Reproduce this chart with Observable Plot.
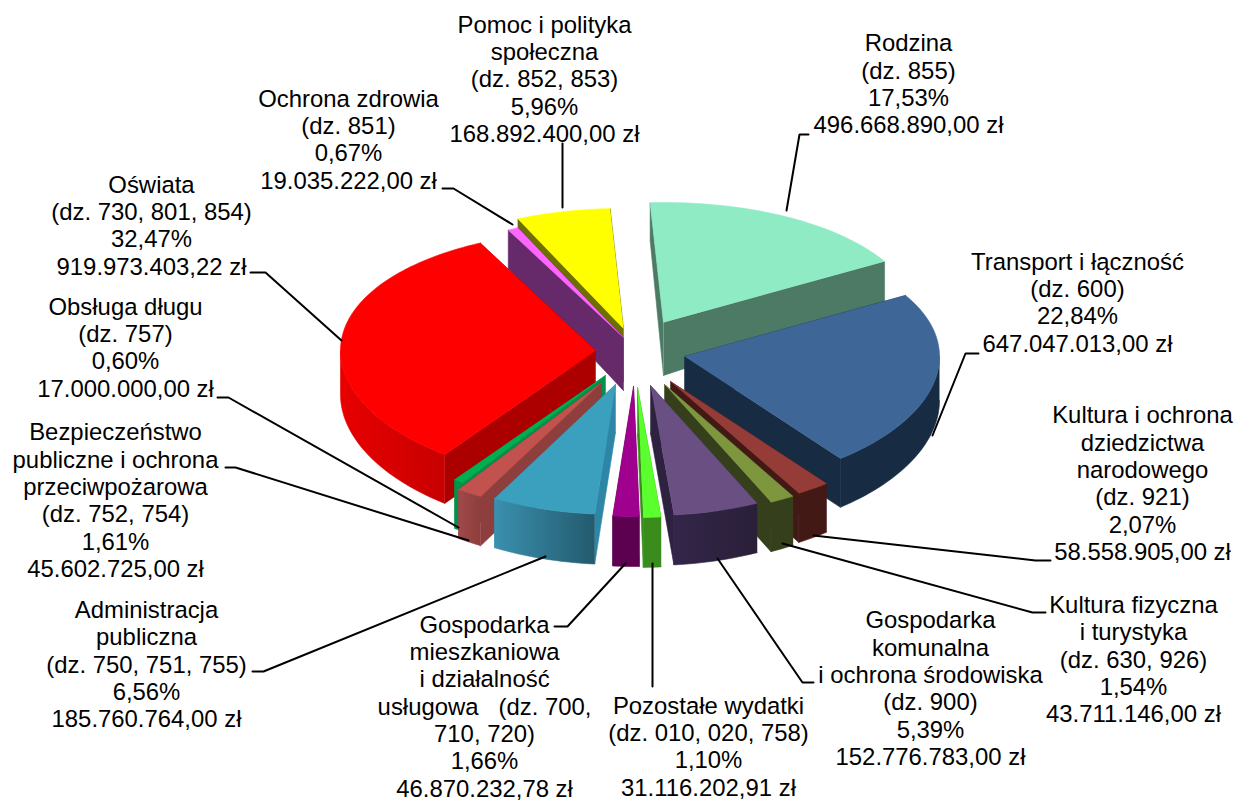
<!DOCTYPE html>
<html lang="pl">
<head>
<meta charset="utf-8">
<script src="https://cdn.jsdelivr.net/npm/d3@7"></script>
<script src="https://cdn.jsdelivr.net/npm/@observablehq/plot@0.6"></script>
<style>
html,body{margin:0;padding:0;background:#fff}
svg{display:block}
</style>
</head>
<body>
<div id="chart"></div>
<script>
// ---------- data (clockwise from the top) ----------
const labelHeads = [
  "Rodzina\n(dz. 855)",
  "Transport i łączność\n(dz. 600)",
  "Kultura i ochrona\ndziedzictwa\nnarodowego\n(dz. 921)",
  "Kultura fizyczna\ni turystyka\n(dz. 630, 926)",
  "Gospodarka\nkomunalna\ni ochrona środowiska\n(dz. 900)",
  "Pozostałe wydatki\n(dz. 010, 020, 758)",
  "Gospodarka\nmieszkaniowa\ni działalność\nusługowa\u00a0\u00a0\u00a0(dz. 700,\n710, 720)",
  "Administracja\npubliczna\n(dz. 750, 751, 755)",
  "Bezpieczeństwo\npubliczne i ochrona\nprzeciwpożarowa\n(dz. 752, 754)",
  "Obsługa długu\n(dz. 757)",
  "Oświata\n(dz. 730, 801, 854)",
  "Ochrona zdrowia\n(dz. 851)",
  "Pomoc i polityka\nspołeczna\n(dz. 852, 853)"
];
const percents = [17.53, 22.84, 2.07, 1.54, 5.39, 1.10, 1.66, 6.56, 1.61, 0.60, 32.47, 0.67, 5.96];
const amounts = [496668890.00, 647047013.00, 58558905.00, 43711146.00, 152776783.00, 31116202.91,
  46870232.78, 185760764.00, 45602725.00, 17000000.00, 919973403.22, 19035222.00, 168892400.00];

// ---------- styles ----------
const topColors  = ["#8FEBC4","#3E6697","#963C38","#7E973F","#6A4F83","#5CFF2E","#A0008E","#3BA0BE","#C1524E","#00B050","#FF0000","#FF66FF","#FFFF00"];
const wallColors = ["#4C7A65","#172B43","#431915","#363F1C","#2E2240","#3A8C1C","#5C0050","#2E86A6","#8E3E3C","#00924A","#AC0000","#662A6B","#6F6F00"];
const arcFrom    = ["#4C7A65","#172B43","#431915","#363F1C","#33264A","#3A8C1C","#5C0050","#3A90AE","#A0494A","#00924A","#E80000","#662A6B","#6F6F00"];
const arcTo      = ["#4C7A65","#172B43","#431915","#363F1C","#2A1F38","#3A8C1C","#5C0050","#235A6E","#8E3E3C","#00924A","#C80000","#662A6B","#6F6F00"];

// ---------- layout ----------
const W = 1243, H = 801;
const apexX = [663,684,670,664,650,637,633,615,601,605,595,623,623];
const apexY = [322,356,381,384,385,387,386,384,382,375,350,337,328];
const apexDrop = [53,48,48,48,48,47,47,48,48,48,48,53,53];
const paintOrder = [0,12,11,10,1,9,2,3,8,7,4,6,5];
const labelX = [908,1077,1142,1133,930,708,484,146,115,125,151,348,544];
const labelY = [83,301.5,482.5,658.5,687.5,745.5,705.5,663.5,499.5,346.5,224.5,138.5,78];
const leaders = [
  [[786,210],[799,134],[808,134]],
  [[932,435],[965,353],[978,353]],
  [[813,535],[1035,560],[1050,560]],
  [[782,543],[1032,612],[1045,612]],
  [[717,558],[802,682],[813,682]],
  [[652,563],[652,686]],
  [[625,563],[567,626],[554,626]],
  [[545,556],[263,671],[252,671]],
  [[468,540],[235,467],[225,467]],
  [[458,527],[228,397],[217,397]],
  [[341,340],[265,272],[250,272]],
  [[512,224],[453,188],[442,188]],
  [[562,207],[562,143]]
];
const rotation = -3, radiusX = 255, radiusY = 125, depth = 0.04;

// ---------- 3D pie geometry derived from the values ----------
const rad = d => d * Math.PI / 180;
const dir = a => {
  const sx = Math.sin(rad(a + rotation)), cy = Math.cos(rad(a + rotation));
  return {dx: radiusX * sx, dy: -radiusY * cy * (1 - depth * cy), Y: cy};
};
const outerDrop = Y => 44 - 6 * Y;
const fmtAmount = v => {
  const [i, f] = v.toFixed(2).split(".");
  return i.replace(/\B(?=(\d{3})+$)/g, ".") + "," + f + " zł";
};
const total = d3.sum(percents);
let acc = 0;
const slices = percents.map((p, i) => {
  const a0 = acc / total * 360; acc += p; const a1 = acc / total * 360;
  return {i, a0, a1};
});

const arcPts = (s, a0, a1) => {
  const n = Math.max(2, Math.ceil((a1 - a0) / 1.5));
  return d3.range(n + 1).map(k => {
    const a = a0 + (a1 - a0) * k / n, d = dir(a);
    return {x: apexX[s.i] + d.dx, y: apexY[s.i] + d.dy, drop: outerDrop(d.Y)};
  });
};
const radial = (s, a) => {
  const d = dir(a), ax = apexX[s.i], ay = apexY[s.i], ox = ax + d.dx, oy = ay + d.dy;
  return [{x: ax, y: ay}, {x: ox, y: oy}, {x: ox, y: oy + outerDrop(d.Y)}, {x: ax, y: ay + apexDrop[s.i]}];
};
const frontRange = s => {
  // the part of the outer rim that faces the viewer (world angles 90..270)
  const lo = Math.max(s.a0, 90 - rotation), hi = Math.min(s.a1, 270 - rotation);
  return hi > lo ? [lo, hi] : null;
};

const face = (pts, fill) => Plot.line(pts, {x: "x", y: "y", fill, stroke: fill, strokeWidth: 0.6, curve: "linear"});

const marks = [];
marks.push(() => {
  const defs = d3.create("svg:defs");
  slices.forEach(s => {
    const g = defs.append("linearGradient").attr("id", "arc" + s.i).attr("x1", 0).attr("x2", 1).attr("y1", 0).attr("y2", 0);
    g.append("stop").attr("offset", 0).attr("stop-color", arcFrom[s.i]);
    g.append("stop").attr("offset", 1).attr("stop-color", arcTo[s.i]);
  });
  return defs.node();
});
paintOrder.forEach(i => {
  const s = slices[i];
  marks.push(face(radial(s, s.a0), wallColors[i]));
  marks.push(face(radial(s, s.a1), wallColors[i]));
  const fr = frontRange(s);
  if (fr) {
    const rim = arcPts(s, fr[0], fr[1]);
    const wall = rim.concat(rim.slice().reverse().map(p => ({x: p.x, y: p.y + p.drop})));
    marks.push(face(wall, `url(#arc${i})`));
  }
  const top = [{x: apexX[i], y: apexY[i]}].concat(arcPts(s, s.a0, s.a1));
  marks.push(face(top, topColors[i]));
});
leaders.forEach(l => marks.push(Plot.line(l, {x: d => d[0], y: d => d[1], stroke: "#000", strokeWidth: 2, curve: "linear", strokeLinejoin: "miter"})));

const labels = labelHeads.map((h, i) => ({
  text: h + "\n" + percents[i].toFixed(2).replace(".", ",") + "%\n" + fmtAmount(amounts[i]),
  x: labelX[i], y: labelY[i]
}));
marks.push(Plot.text(labels, {
  x: "x", y: "y", text: "text", textAnchor: "middle", lineAnchor: "middle",
  lineHeight: 1.145, fontSize: 23.9, fill: "#000", fontFamily: "'Liberation Sans', Arial, sans-serif"
}));

const chart = Plot.plot({
  width: W, height: H, margin: 0,
  style: {background: "#fff", overflow: "visible"},
  x: {domain: [0, W], range: [0, W], axis: null},
  y: {domain: [0, H], range: [0, H], axis: null},
  marks
});
document.getElementById("chart").append(chart);
</script>
</body>
</html>
